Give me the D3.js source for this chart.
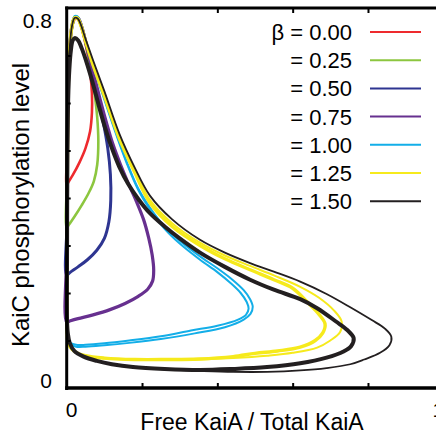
<!DOCTYPE html>
<html>
<head>
<meta charset="utf-8">
<script src="https://cdn.jsdelivr.net/npm/d3@7"></script>
<style>
  body { margin: 0; background: #fff; }
  svg { display: block; font-family: "Liberation Sans", Arial, Helvetica, sans-serif; }
</style>
</head>
<body>
<svg id="chart" width="436" height="435"></svg>
<script>
// legend entries
const betas = ['β = 0.00', '= 0.25', '= 0.50', '= 0.75', '= 1.00', '= 1.25', '= 1.50'];
const colors = ['#ee2a2e', '#8cc63f', '#2e3591', '#67308f', '#13aee8', '#f6ea1c', '#231f20'];

const xTicks = [0.2, 0.4, 0.6, 0.8];
const yTicks = [0.1, 0.2, 0.3, 0.4, 0.5, 0.6, 0.7];

// limit cycles, [free KaiA fraction, KaiC phosphorylation]
const cycleRed = [[0,0.427],[0.001,0.5],[0.003,0.6],[0.006,0.68],[0.010,0.735],[0.016,0.766],[0.023,0.778],[0.03,0.776],[0.038,0.762],[0.047,0.735],[0.056,0.7],[0.063,0.66],[0.067,0.62],[0.067,0.58],[0.062,0.54],[0.05,0.505],[0.034,0.475],[0.016,0.448],[0.005,0.434]];
const cycleGreen = [[0,0.337],[0.001,0.45],[0.002,0.55],[0.004,0.64],[0.008,0.71],[0.014,0.757],[0.022,0.779],[0.03,0.778],[0.04,0.758],[0.052,0.72],[0.064,0.672],[0.074,0.62],[0.081,0.57],[0.084,0.52],[0.081,0.47],[0.072,0.435],[0.058,0.41],[0.04,0.385],[0.02,0.36],[0.006,0.344]];
const cycleBlue = [[0,0.238],[0.001,0.35],[0.002,0.5],[0.004,0.63],[0.008,0.715],[0.014,0.762],[0.022,0.781],[0.03,0.779],[0.04,0.76],[0.053,0.72],[0.067,0.67],[0.082,0.615],[0.097,0.56],[0.109,0.505],[0.116,0.45],[0.117,0.395],[0.112,0.35],[0.1,0.315],[0.08,0.29],[0.055,0.27],[0.03,0.255],[0.01,0.244]];
const cyclePurple = [[0,0.139],[0.001,0.3],[0.002,0.5],[0.004,0.63],[0.008,0.715],[0.014,0.762],[0.022,0.781],[0.03,0.779],[0.04,0.76],[0.053,0.72],[0.068,0.672],[0.088,0.61],[0.105,0.56],[0.122,0.515],[0.142,0.472],[0.163,0.432],[0.185,0.393],[0.204,0.355],[0.218,0.315],[0.227,0.28],[0.231,0.248],[0.228,0.225],[0.215,0.208],[0.19,0.193],[0.155,0.178],[0.115,0.165],[0.07,0.154],[0.03,0.146],[0.008,0.141]];
const cycleCyanA = [[0.001,0.12],[0.001,0.3],[0.002,0.5],[0.004,0.63],[0.008,0.715],[0.014,0.764],[0.021,0.783],[0.029,0.782],[0.038,0.766],[0.05,0.732],[0.07,0.68],[0.1,0.61],[0.13,0.54],[0.16,0.475],[0.19,0.42],[0.221,0.38],[0.26,0.34],[0.3,0.31],[0.354,0.277],[0.4,0.252],[0.44,0.228],[0.47,0.206],[0.487,0.187],[0.494,0.171],[0.488,0.156],[0.47,0.144],[0.42,0.128],[0.34,0.115],[0.25,0.103],[0.166,0.095],[0.1,0.09],[0.05,0.087],[0.025,0.087],[0.01,0.092],[0.003,0.103]];
const cycleCyanB = [[0.001,0.12],[0.001,0.3],[0.002,0.5],[0.004,0.63],[0.008,0.715],[0.014,0.763],[0.021,0.781],[0.029,0.78],[0.038,0.764],[0.05,0.73],[0.07,0.678],[0.1,0.607],[0.13,0.537],[0.16,0.472],[0.19,0.417],[0.221,0.376],[0.26,0.335],[0.3,0.304],[0.354,0.27],[0.4,0.244],[0.435,0.221],[0.462,0.2],[0.478,0.181],[0.483,0.167],[0.476,0.154],[0.455,0.144],[0.4,0.131],[0.33,0.121],[0.25,0.109],[0.166,0.1],[0.1,0.094],[0.05,0.091],[0.025,0.091],[0.01,0.095],[0.003,0.105]];
const cycleYellowA = [[0.001,0.12],[0.001,0.3],[0.002,0.5],[0.004,0.63],[0.008,0.715],[0.014,0.762],[0.021,0.779],[0.029,0.778],[0.038,0.763],[0.05,0.73],[0.07,0.68],[0.1,0.615],[0.14,0.525],[0.18,0.455],[0.221,0.39],[0.28,0.34],[0.354,0.3],[0.42,0.272],[0.487,0.249],[0.55,0.228],[0.6,0.21],[0.64,0.18],[0.67,0.155],[0.686,0.135],[0.68,0.116],[0.66,0.1],[0.62,0.086],[0.56,0.078],[0.5,0.073],[0.442,0.066],[0.35,0.061],[0.266,0.06],[0.18,0.06],[0.1,0.063],[0.05,0.068],[0.025,0.075],[0.01,0.085],[0.003,0.1]];
const cycleYellowB = [[0.001,0.12],[0.001,0.3],[0.002,0.5],[0.004,0.63],[0.008,0.715],[0.014,0.764],[0.021,0.781],[0.029,0.78],[0.038,0.765],[0.05,0.732],[0.07,0.683],[0.1,0.619],[0.14,0.53],[0.18,0.46],[0.221,0.396],[0.28,0.347],[0.354,0.306],[0.42,0.279],[0.487,0.257],[0.55,0.237],[0.62,0.213],[0.67,0.19],[0.71,0.163],[0.73,0.14],[0.726,0.118],[0.7,0.1],[0.665,0.085],[0.6,0.074],[0.532,0.068],[0.442,0.063],[0.354,0.06],[0.266,0.059],[0.18,0.059],[0.1,0.062],[0.05,0.067],[0.025,0.074],[0.01,0.084],[0.003,0.1]];
const cycleBlackThick = [[0.001,0.14],[0.001,0.3],[0.002,0.5],[0.004,0.61],[0.007,0.67],[0.011,0.71],[0.016,0.732],[0.022,0.737],[0.03,0.732],[0.04,0.715],[0.053,0.685],[0.068,0.645],[0.085,0.595],[0.1,0.553],[0.12,0.505],[0.14,0.465],[0.163,0.43],[0.19,0.398],[0.221,0.368],[0.26,0.34],[0.3,0.315],[0.354,0.285],[0.42,0.255],[0.487,0.228],[0.55,0.207],[0.62,0.187],[0.665,0.168],[0.715,0.14],[0.745,0.122],[0.762,0.105],[0.755,0.088],[0.735,0.077],[0.69,0.064],[0.62,0.052],[0.532,0.044],[0.44,0.04],[0.354,0.038],[0.26,0.04],[0.176,0.044],[0.12,0.05],[0.08,0.057],[0.045,0.066],[0.02,0.078],[0.008,0.095],[0.003,0.115]];
const cycleBlackThin = [[0.001,0.14],[0.001,0.3],[0.002,0.5],[0.004,0.63],[0.008,0.715],[0.014,0.762],[0.021,0.779],[0.029,0.778],[0.036,0.768],[0.05,0.735],[0.07,0.69],[0.1,0.625],[0.14,0.535],[0.18,0.465],[0.221,0.405],[0.28,0.355],[0.354,0.312],[0.42,0.285],[0.487,0.263],[0.55,0.245],[0.62,0.224],[0.69,0.198],[0.753,0.17],[0.81,0.143],[0.845,0.125],[0.862,0.108],[0.857,0.09],[0.832,0.074],[0.79,0.06],[0.753,0.05],[0.69,0.042],[0.62,0.037],[0.532,0.034],[0.442,0.034],[0.354,0.036],[0.26,0.039],[0.176,0.044],[0.12,0.05],[0.08,0.057],[0.045,0.066],[0.02,0.078],[0.008,0.095],[0.003,0.115]];

const svg = d3.select('#chart');

const x = d3.scaleLinear().domain([0, 1]).range([66.7, 443.3]);
const y = d3.scaleLinear().domain([0, 0.8]).range([388, 8]);

const line = d3.line()
  .x(function(d){ return x(d[0]); })
  .y(function(d){ return y(d[1]); })
  .curve(d3.curveCatmullRomClosed.alpha(0.5));

// curves, drawn from beta 0 up to 1.5 so black ends on top
const curves = [
  { pts: cycleRed, c: 0, w: 2.6 },
  { pts: cycleGreen, c: 1, w: 2.6 },
  { pts: cycleBlue, c: 2, w: 3 },
  { pts: cyclePurple, c: 3, w: 3.2 },
  { pts: cycleCyanA, c: 4, w: 2 },
  { pts: cycleCyanB, c: 4, w: 2 },
  { pts: cycleYellowB, c: 5, w: 2 },
  { pts: cycleYellowA, c: 5, w: 3.4 },
  { pts: cycleBlackThin, c: 6, w: 1.8 },
  { pts: cycleBlackThick, c: 6, w: 4 }
];

svg.append('g').selectAll('path')
  .data(curves)
  .join('path')
    .attr('class', 'cycle')
    .attr('d', function(d){ return line(d.pts); })
    .attr('fill', 'none')
    .attr('stroke', function(d){ return colors[d.c]; })
    .attr('stroke-width', function(d){ return d.w; })
    .attr('stroke-linejoin', 'round');

// axes: ticks point into the plot
svg.append('g')
  .attr('transform', 'translate(0,' + y(0) + ')')
  .call(d3.axisBottom(x).tickValues(xTicks).tickSize(-5).tickFormat(''))
  .call(g => g.select('.domain').remove());

svg.append('g')
  .attr('transform', 'translate(0,' + y(0.8) + ')')
  .call(d3.axisTop(x).tickValues(xTicks).tickSize(-5).tickFormat(''))
  .call(g => g.select('.domain').remove());

svg.append('g')
  .attr('transform', 'translate(' + x(0) + ',0)')
  .call(d3.axisLeft(y).tickValues(yTicks).tickSize(-4).tickFormat(''))
  .call(g => g.select('.domain').remove());

svg.selectAll('.tick line')
  .attr('stroke', '#000')
  .attr('stroke-width', 2);

// frame
svg.append('line')
  .attr('x1', x(0)).attr('x2', x(0))
  .attr('y1', y(0.8) - 1.5).attr('y2', y(0) + 2)
  .attr('stroke', '#000').attr('stroke-width', 3);
svg.append('line')
  .attr('x1', x(0) - 1.5).attr('x2', 436)
  .attr('y1', y(0.8)).attr('y2', y(0.8))
  .attr('stroke', '#000').attr('stroke-width', 3);
svg.append('line')
  .attr('x1', x(0) - 1.5).attr('x2', 436)
  .attr('y1', y(0)).attr('y2', y(0))
  .attr('stroke', '#000').attr('stroke-width', 3.5);

// tick labels
svg.append('text')
  .attr('x', 52).attr('y', y(0.8) + 20)
  .attr('text-anchor', 'end')
  .attr('font-size', 21)
  .text('0.8');
svg.append('text')
  .attr('x', 52).attr('y', y(0))
  .attr('text-anchor', 'end')
  .attr('font-size', 21)
  .text('0');
svg.append('text')
  .attr('x', x(0) + 5).attr('y', 417)
  .attr('text-anchor', 'middle')
  .attr('font-size', 21)
  .text('0');
svg.append('text')
  .attr('x', x(1) - 5).attr('y', 417)
  .attr('text-anchor', 'middle')
  .attr('font-size', 21)
  .text('1');

// axis titles
svg.append('text')
  .attr('x', 252).attr('y', 430)
  .attr('text-anchor', 'middle')
  .attr('font-size', 23)
  .text('Free KaiA / Total KaiA');
svg.append('text')
  .attr('transform', 'translate(29,205) rotate(-90)')
  .attr('text-anchor', 'middle')
  .attr('font-size', 24)
  .text('KaiC phosphorylation level');

// legend
const legend = svg.append('g').selectAll('g')
  .data(betas)
  .join('g')
    .attr('transform', function(d, i){ return 'translate(0,' + (32 + i * 28.2) + ')'; });

legend.append('text')
  .attr('x', 352).attr('y', 8)
  .attr('text-anchor', 'end')
  .attr('font-size', 22)
  .text(function(d){ return d; });

legend.append('line')
  .attr('x1', 370).attr('x2', 421)
  .attr('y1', 0).attr('y2', 0)
  .attr('stroke', function(d, i){ return colors[i]; })
  .attr('stroke-width', 2);
</script>
</body>
</html>
